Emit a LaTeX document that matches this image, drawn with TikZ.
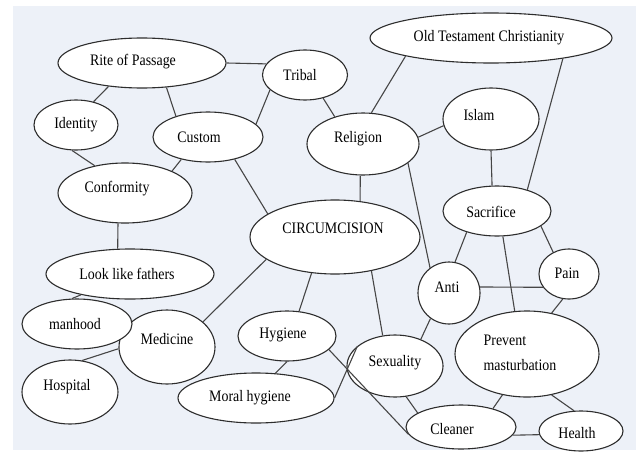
\documentclass[tikz,border=0pt]{standalone}
\usepackage{fontspec}
\setmainfont[FakeStretch=0.87]{Liberation Serif}
\usetikzlibrary{shapes.geometric}
\definecolor{bgcol}{RGB}{237,241,248}
\definecolor{edgecol}{RGB}{70,70,70}
\definecolor{ellcol}{RGB}{45,45,45}
\begin{document}
\begin{tikzpicture}[x=1pt,y=-1pt,
  ell/.style={ellipse,draw=ellcol,fill=white,line width=1.1pt,inner sep=0pt},
  txt/.style={font=\fontsize{16pt}{25pt}\selectfont,inner sep=0pt,text=black},
  conn/.style={draw=edgecol,line width=1.1pt}]
\useasboundingbox (0,0) rectangle (636,452);
\fill[bgcol] (13,6) rectangle (636,450);
% nodes
\node[ell,minimum width=168pt,minimum height=50pt,label={[txt,xshift=-9pt,yshift=1pt]center:Rite of Passage}] (rite) at (142,63) {};
\node[ell,minimum width=85pt,minimum height=50pt,label={[txt,xshift=-5pt]center:Tribal}] (tribal) at (305,75) {};
\node[ell,minimum width=84pt,minimum height=50pt,label={[txt]center:Identity}] (identity) at (76,125) {};
\node[ell,minimum width=110pt,minimum height=50pt,label={[txt,xshift=-9pt]center:Custom}] (custom) at (208,137) {};
\node[ell,minimum width=134pt,minimum height=60pt,label={[txt,xshift=-8pt,yshift=4pt]center:Conformity}] (conformity) at (125,193) {};
\node[ell,minimum width=242pt,minimum height=50pt,label={[txt,xshift=-2pt]center:Old Testament Christianity}] (otc) at (491,38) {};
\node[ell,minimum width=112pt,minimum height=62pt,label={[txt,xshift=-5pt,yshift=5pt]center:Religion}] (religion) at (363,144) {};
\node[ell,minimum width=96pt,minimum height=62pt,label={[txt,xshift=-12pt,yshift=4pt]center:Islam}] (islam) at (491,119) {};
\node[ell,minimum width=108pt,minimum height=50pt,label={[txt,xshift=-6pt,yshift=-1pt]center:Sacrifice}] (sacrifice) at (497,211) {};
\node[ell,minimum width=170pt,minimum height=74pt,label={[txt,xshift=-2pt,yshift=9pt]center:CIRCUMCISION}] (circ) at (335,237) {};
\node[ell,minimum width=62pt,minimum height=62pt,label={[txt,xshift=-2pt,yshift=6pt]center:Anti}] (anti) at (449,293) {};
\node[ell,minimum width=60pt,minimum height=50pt,label={[txt,xshift=-2pt,yshift=1pt]center:Pain}] (pain) at (569,274) {};
\node[ell,minimum width=144pt,minimum height=86pt,label={[txt,align=left,xshift=-7pt,yshift=1pt]center:Prevent\\masturbation}] (prevent) at (527,354) {};
\node[ell,minimum width=96pt,minimum height=62pt,label={[txt,yshift=3pt]center:Sexuality}] (sexuality) at (395,366) {};
\node[ell,minimum width=110pt,minimum height=44pt,label={[txt,xshift=-9pt,yshift=-2pt]center:Cleaner}] (cleaner) at (461,427) {};
\node[ell,minimum width=84pt,minimum height=40pt,label={[txt,xshift=-4pt,yshift=-2pt]center:Health}] (health) at (581,431) {};
\node[ell,minimum width=168pt,minimum height=50pt,label={[txt,xshift=-3pt]center:Look like fathers}] (look) at (130,274) {};
\node[ell,minimum width=96pt,minimum height=74pt,label={[txt,yshift=8pt]center:Medicine}] (medicine) at (167,347) {};
\node[ell,minimum width=110pt,minimum height=50pt,label={[txt,xshift=-2pt]center:manhood}] (manhood) at (77,324) {};
\node[ell,minimum width=96pt,minimum height=64pt,label={[txt,xshift=-3pt,yshift=5pt]center:Hospital}] (hospital) at (70,392) {};
\node[ell,minimum width=98pt,minimum height=50pt,label={[txt,xshift=-4pt,yshift=1pt]center:Hygiene}] (hygiene) at (287,336) {};
\node[ell,minimum width=156pt,minimum height=50pt,label={[txt,xshift=-6pt]center:Moral hygiene}] (moral) at (256,398) {};
% connectors
\draw[conn] (rite.0) -- (tribal.164);
\draw[conn] (rite.215) -- (identity.53);
\draw[conn] (rite.315) -- (custom.147);
\draw[conn] (tribal.203) -- (custom.15);
\draw[conn] (tribal.308) -- (religion.136);
\draw[conn] (identity.261) -- (conformity.138);
\draw[conn] (custom.220) -- (conformity.25);
\draw[conn] (custom.320) -- (circ.161);
\draw[conn] (conformity.257) -- (look.116);
\draw[conn] (look.203) -- (manhood.101);
\draw[conn] (medicine.182) -- (hospital.69);
\draw[conn] (medicine.35) -- (circ.198);
\draw[conn] (circ.237) -- (hygiene.64);
\draw[conn] (hygiene.270) -- (moral.52);
\draw[conn] (hygiene.342) -- (cleaner.188);
\draw[conn] (moral.0) -- (sexuality.152);
\draw[conn] (circ.317) -- (sexuality.112);
\draw[conn] (religion.265) -- (circ.55);
\draw[conn] (religion.337) -- (anti.127);
\draw[conn] (religion.75) -- (otc.192);
\draw[conn] (religion.7) -- (islam.188);
\draw[conn] (islam.270) -- (sacrifice.101);
\draw[conn] (otc.344) -- (sacrifice.35);
\draw[conn] (sacrifice.215) -- (anti.79);
\draw[conn] (sacrifice.341) -- (pain.126);
\draw[conn] (sacrifice.283) -- (prevent.106);
\draw[conn] (anti.11) -- (pain.207);
\draw[conn] (anti.234) -- (sexuality.46);
\draw[conn] (pain.256) -- (prevent.59);
\draw[conn] (prevent.239) -- (cleaner.30);
\draw[conn] (prevent.301) -- (health.109);
\draw[conn] (sexuality.290) -- (cleaner.162);
\draw[conn] (cleaner.351) -- (health.185);
\end{tikzpicture}
\end{document}
